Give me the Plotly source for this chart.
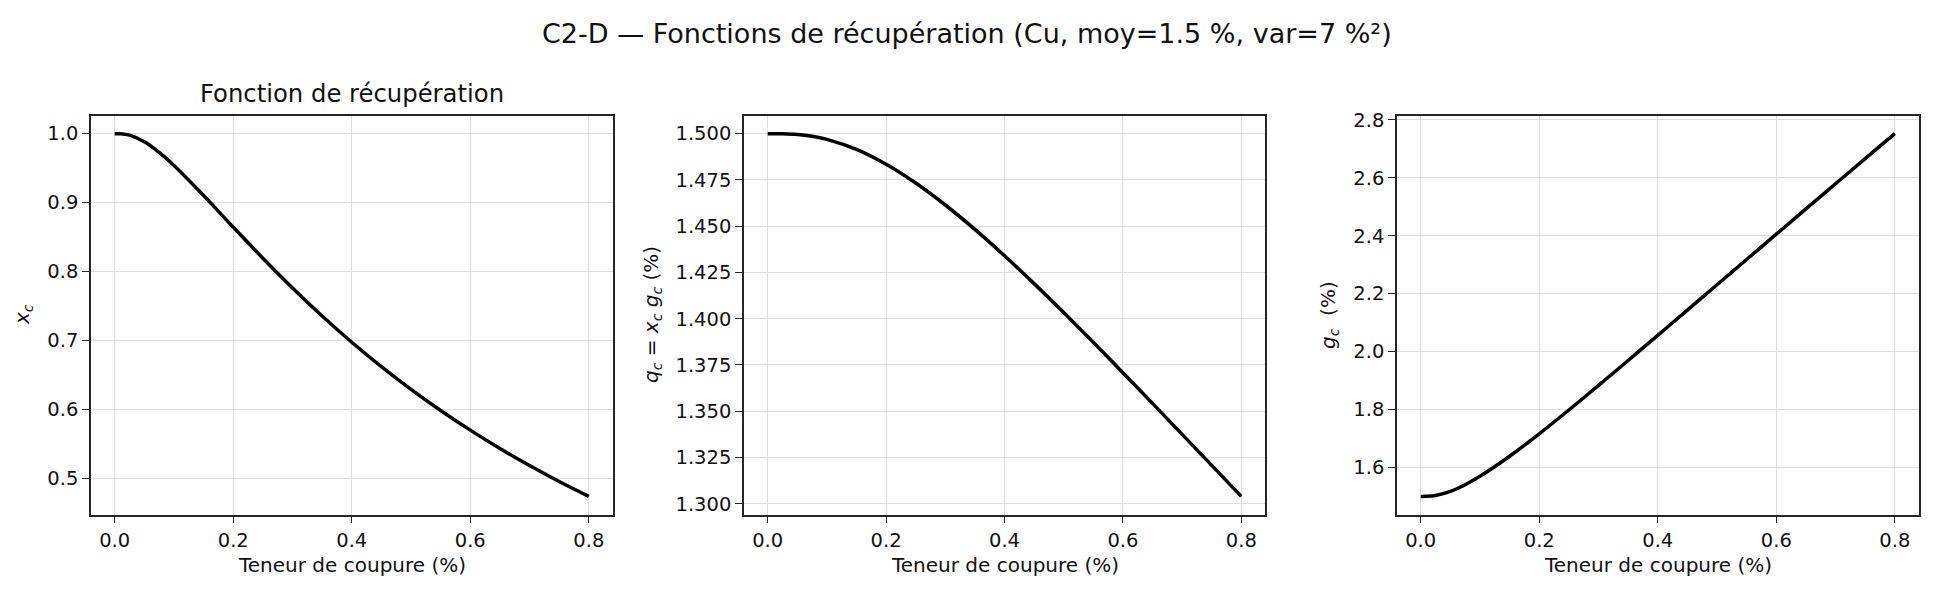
import plotly.graph_objects as go

# ---- data ----
cutoff = [0.0, 0.01, 0.025, 0.05, 0.075, 0.1, 0.15, 0.2, 0.25, 0.3, 0.35, 0.4,
          0.45, 0.5, 0.55, 0.6, 0.65, 0.7, 0.75, 0.8]
x_c = [1.0, 0.99985, 0.99781, 0.98828, 0.97289, 0.95383, 0.91022, 0.86437, 0.81924,
       0.77611, 0.73549, 0.69748, 0.66207, 0.62911, 0.59845, 0.56992, 0.54334,
       0.51855, 0.49541, 0.47377]
q_c = [1.5, 1.5, 1.49996, 1.49958, 1.49862, 1.49694, 1.49147, 1.48344, 1.4733,
       1.46145, 1.44827, 1.43402, 1.41897, 1.40333, 1.38725, 1.37084, 1.35425,
       1.33752, 1.32075, 1.30398]
g_c = [1.5, 1.50023, 1.50325, 1.51736, 1.54038, 1.5694, 1.63858, 1.71623, 1.79837,
       1.88307, 1.96913, 2.056, 2.14323, 2.23066, 2.31807, 2.40532, 2.49245,
       2.57934, 2.66597, 2.75235]

suptitle = "C2-D — Fonctions de récupération (Cu, moy=1.5 %, var=7 %²)"
panel_title = "Fonction de récupération"
xlabel = "Teneur de coupure (%)"
ylabels = ["<i>x<sub>c</sub></i>",
           "<i>q<sub>c</sub></i> = <i>x<sub>c</sub></i> <i>g<sub>c</sub></i> (%)",
           "<i>g<sub>c</sub></i>  (%)"]
x_ticks = [0.0, 0.2, 0.4, 0.6, 0.8]
y_dticks = [0.1, 0.025, 0.2]
y_formats = [".1f", ".3f", ".1f"]

W, H = 1933, 593
FONT = "DejaVu Sans"
x_domains = [[91 / W, 612.5 / W], [744 / W, 1265 / W], [1397 / W, 1918.5 / W]]
y_domain = [1 - 514.5 / H, 1 - 110 / H]
ylabel_x = [23 / W, 652 / W, 1329 / W]

def padded(vals, frac=0.05):
    lo, hi = min(vals), max(vals)
    d = (hi - lo) * frac
    return [lo - d, hi + d]

fig = go.Figure()
series = [x_c, q_c, g_c]
for i, ys in enumerate(series):
    sfx = "" if i == 0 else str(i + 1)
    fig.add_trace(go.Scatter(x=cutoff, y=ys, mode="lines",
                             line=dict(color="black", width=3.5, shape="spline", smoothing=0.8),
                             xaxis="x" + sfx, yaxis="y" + sfx, showlegend=False,
                             hoverinfo="skip"))
    axcommon = dict(showline=True, mirror=True, linecolor="#262626", linewidth=1.5,
                    ticks="outside", ticklen=7, tickwidth=1.3, tickcolor="#262626",
                    showgrid=True, gridcolor="#dedede", gridwidth=1.3, zeroline=False,
                    tickfont=dict(family=FONT, size=19.5, color="#111"))
    fig.layout["xaxis" + sfx] = dict(domain=x_domains[i], anchor="y" + sfx,
                                     range=padded(cutoff), tickvals=x_ticks,
                                     tickformat=".1f", **axcommon)
    fig.layout["yaxis" + sfx] = dict(domain=y_domain, anchor="x" + sfx,
                                     range=padded(ys), dtick=y_dticks[i], tick0=0,
                                     tickformat=y_formats[i], **axcommon)
    # x label
    fig.add_annotation(text=xlabel, xref="paper", yref="paper",
                       x=sum(x_domains[i]) / 2, y=1 - 566 / H, xanchor="center",
                       yanchor="middle", showarrow=False,
                       font=dict(family=FONT, size=20, color="#111"))
    # y label
    fig.add_annotation(text=ylabels[i], xref="paper", yref="paper",
                       x=ylabel_x[i], y=sum(y_domain) / 2, xanchor="center",
                       yanchor="middle", textangle=-90, showarrow=False,
                       font=dict(family=FONT, size=20, color="#111"))

fig.add_annotation(text=panel_title, xref="paper", yref="paper",
                   x=sum(x_domains[0]) / 2, y=1 - 88 / H, xanchor="center",
                   yanchor="middle", showarrow=False,
                   font=dict(family=FONT, size=24.3, color="#111"))
fig.add_annotation(text=suptitle, xref="paper", yref="paper",
                   x=0.5, y=1 - 27 / H, xanchor="center", yanchor="middle",
                   showarrow=False, font=dict(family=FONT, size=27, color="#111"))

fig.update_layout(width=W, height=H, margin=dict(l=0, r=0, t=0, b=0),
                  paper_bgcolor="white", plot_bgcolor="white", autosize=False)
fig.write_html("out.html", config={"displayModeBar": False},
               post_script="document.body.style.margin='0';document.body.style.overflow='hidden';")
